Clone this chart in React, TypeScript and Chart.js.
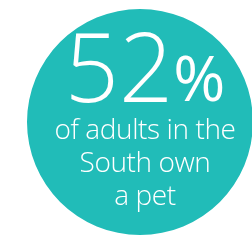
import React, { useEffect, useRef } from "react";
import { Chart, registerables } from "chart.js";

Chart.register(...registerables);

const categories = ["Adults in the South who own a pet"];
const circleValues = [100];
const headlineValue = ["52"];
const headlineUnit = ["%"];
const captionLines = ["of adults in the", "South own", "a pet"];

const FONT = '"Open Sans", "Noto Sans", sans-serif';

const textPlugin = {
  id: "calloutText",
  afterDraw(chart: any) {
    const ctx = chart.ctx as CanvasRenderingContext2D;
    const meta = chart.getDatasetMeta(0);
    const arc = meta.data[0];
    const cx = arc.x + 5;
    const cy = arc.y;
    ctx.save();
    ctx.fillStyle = "#ffffff";
    ctx.textBaseline = "alphabetic";
    // headline
    const numFont = `300 95px ${FONT}`;
    const unitFont = `500 63px ${FONT}`;
    ctx.font = numFont;
    const numW = ctx.measureText(headlineValue[0]).width;
    ctx.font = unitFont;
    const unitW = ctx.measureText(headlineUnit[0]).width;
    const gap = 0;
    const total = numW + gap + unitW;
    const startX = cx - total / 2;
    ctx.textAlign = "left";
    ctx.font = numFont;
    ctx.fillText(headlineValue[0], startX, cy - 20);
    ctx.font = unitFont;
    ctx.fillText(headlineUnit[0], startX + numW + gap, cy - 21);
    // caption
    ctx.textAlign = "center";
    ctx.font = `300 28px ${FONT}`;
    (ctx as any).letterSpacing = "-0.4px";
    captionLines.forEach((line, i) => {
      ctx.fillText(line, cx, cy + 17 + i * 33);
    });
    ctx.restore();
  },
};

export default function App() {
  const ref = useRef<HTMLCanvasElement>(null);
  useEffect(() => {
    document.body.style.margin = "0";
    const chart = new Chart(ref.current!, {
      type: "pie",
      data: {
        labels: categories,
        datasets: [
          {
            data: circleValues,
            backgroundColor: ["#21bcb8"],
            borderWidth: 0,
          },
        ],
      },
      options: {
        responsive: false,
        animation: false,
        events: [],
        layout: { padding: 0 },
        plugins: { legend: { display: false }, tooltip: { enabled: false } },
      },
      plugins: [textPlugin],
    });
    return () => chart.destroy();
  }, []);
  return (
    <div style={{ position: "relative", width: 252, height: 240, overflow: "hidden", background: "#fff" }}>
      <canvas ref={ref} width={226} height={226} style={{ position: "absolute", left: 27, top: 9, width: 226, height: 226 }} />
    </div>
  );
}
